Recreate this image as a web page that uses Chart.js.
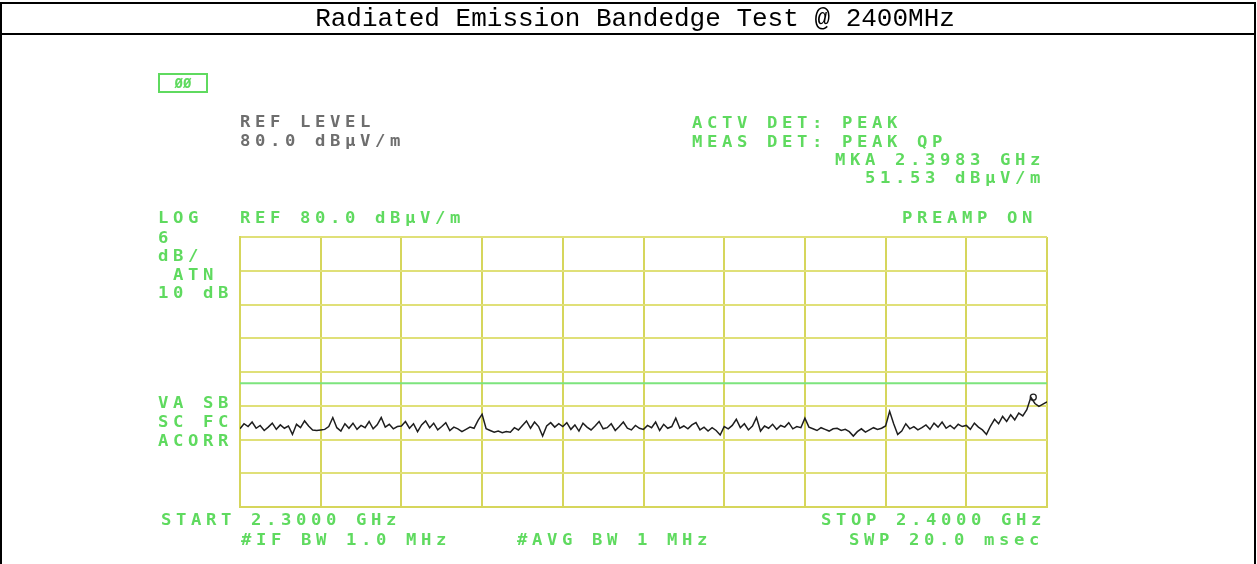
<!DOCTYPE html>
<html>
<head>
<meta charset="utf-8">
<script src="https://cdn.jsdelivr.net/npm/chart.js@4/dist/chart.umd.min.js"></script>
<style>
  html, body { margin: 0; padding: 0; background: #fff; }
  canvas { display: block; }
</style>
</head>
<body>
<canvas id="chart" width="1257" height="564"></canvas>
<script>
// sweep: 2.3000 GHz .. 2.4000 GHz, 201 trace points (MHz)
const startMHz = 2300;
const stopMHz = 2400;
const stepMHz = 0.5;

// trace level, dBuV/m, one division (10 MHz) per row
const traceLevels = [
  45.9, 46.8, 46.3, 47.1, 46.0, 46.5, 45.6, 46.2, 46.9, 45.8, 46.6, 46.0, 46.4, 44.9, 46.7, 46.1, 47.3, 46.4, 45.7, 45.6,
  45.7, 45.8, 46.3, 47.9, 46.1, 45.5, 46.8, 46.0, 46.9, 45.8, 46.5, 46.1, 47.2, 45.9, 46.6, 47.9, 46.2, 46.7, 45.9, 46.3,
  46.4, 47.2, 46.0, 46.8, 45.4, 46.6, 47.3, 46.1, 46.9, 45.7, 46.3, 47.0, 45.6, 46.2, 45.9, 45.4, 45.8, 46.2, 46.0, 47.4,
  48.5, 45.9, 45.6, 45.3, 45.5, 45.2, 45.4, 45.3, 46.1, 45.7, 46.5, 47.3, 46.0, 47.1, 46.3, 44.6, 46.4, 47.0, 46.2, 46.8,
  46.3, 47.0, 45.8, 46.6, 45.5, 46.9, 46.2, 45.7, 46.4, 47.2, 45.9, 46.1, 46.8, 45.6, 46.3, 47.1, 46.0, 45.7, 46.5, 46.0,
  45.8, 46.5, 46.1, 47.1, 45.6, 46.7, 46.0, 46.3, 47.8, 46.0, 46.4, 45.9, 46.6, 47.0, 45.7, 46.2, 45.5, 46.1, 45.6, 44.8,
  46.3, 45.9, 46.5, 47.6, 46.1, 46.8, 45.7, 46.4, 47.9, 45.5, 46.4, 46.0, 46.7, 45.8, 46.5, 46.2, 47.0, 45.9, 46.3, 46.1,
  47.8, 46.2, 45.9, 45.6, 46.1, 45.8, 45.5, 45.9, 46.0, 45.6, 45.8, 45.4, 44.6, 45.4, 45.9, 45.3, 45.7, 46.1, 45.8, 46.0,
  46.4, 49.0, 46.8, 44.9, 45.5, 46.8, 45.9, 46.3, 45.7, 46.1, 46.6, 45.8, 46.9, 46.2, 47.1, 46.0, 46.5, 45.9, 46.7, 46.3,
  46.5, 45.8, 46.9, 46.2, 45.7, 44.9, 46.4, 47.6, 46.8, 48.1, 47.2, 48.4, 47.5, 48.7, 48.2, 49.3, 51.5, 50.4, 49.9, 50.3,
  50.7
];

const limitLevel = 54;           // green display line
const markerFreq = 2398.3;       // MKA 2.3983 GHz
const markerLevel = 51.53;
const refLevel = 80;
const dbPerDiv = 6;
const vDivs = 8;

const green = 'rgb(95,218,95)';
const grey = 'rgb(110,110,110)';

// annotation texts on the analyzer screen: [text, x, y, colour]
const screenTexts = [
  ['REF LEVEL', 240, 122, grey],
  ['80.0 dBµV/m', 240, 141, grey],
  ['ACTV DET: PEAK', 692, 123, green],
  ['MEAS DET: PEAK QP', 692, 142, green],
  ['MKA 2.3983 GHz', 835, 160, green],
  ['51.53 dBµV/m', 865, 178, green],
  ['LOG', 158, 218, green],
  ['REF 80.0 dBµV/m', 240, 218, green],
  ['PREAMP ON', 902, 218, green],
  ['6', 158, 238, green],
  ['dB/', 158, 256, green],
  ['ATN', 173, 275, green],
  ['10 dB', 158, 293, green],
  ['VA SB', 158, 403, green],
  ['SC FC', 158, 422, green],
  ['ACORR', 158, 441, green],
  ['START 2.3000 GHz', 161, 520, green],
  ['#IF BW 1.0 MHz', 241, 540, green],
  ['#AVG BW 1 MHz', 517, 540, green],
  ['STOP 2.4000 GHz', 821, 520, green],
  ['SWP 20.0 msec', 849, 540, green]
];

const titleText = 'Radiated Emission Bandedge Test @ 2400MHz';

const tracePoints = traceLevels.map((v, i) => ({ x: startMHz + i * stepMHz, y: v }));

// draws the page frame, title and the analyzer's screen text
const screenPlugin = {
  id: 'screen',
  afterDraw(chart) {
    const ctx = chart.ctx;
    const W = chart.width, H = chart.height;
    ctx.save();
    ctx.strokeStyle = '#000';
    ctx.lineWidth = 2;
    ctx.beginPath();
    ctx.moveTo(1, H); ctx.lineTo(1, 3); ctx.lineTo(W - 2, 3); ctx.lineTo(W - 2, H);
    ctx.moveTo(1, 34); ctx.lineTo(W - 2, 34);
    ctx.stroke();

    ctx.fillStyle = '#000';
    ctx.font = '26px "Liberation Mono", "Courier New", monospace';
    ctx.textAlign = 'center';
    ctx.textBaseline = 'middle';
    ctx.fillText(titleText, 635, 19);

    // boxed icon top-left
    ctx.strokeStyle = green;
    ctx.lineWidth = 2;
    ctx.strokeRect(159, 74, 48, 18);
    ctx.fillStyle = green;
    ctx.font = 'bold 14px "DejaVu Sans Mono", monospace';
    ctx.textAlign = 'center';
    ctx.fillText('ØØ', 183, 84);

    // fixed-pitch screen font, slightly widened like the analyzer's glyphs
    ctx.font = 'bold 15px "DejaVu Sans Mono", monospace';
    ctx.textAlign = 'left';
    const pitch = 15;
    screenTexts.forEach(([txt, x, y, col]) => {
      ctx.fillStyle = col;
      for (let i = 0; i < txt.length; i++) {
        ctx.save();
        ctx.translate(x + i * pitch, y + 1);
        ctx.scale(1.15, 1);
        ctx.fillText(txt[i], 0, 0);
        ctx.restore();
      }
    });
    ctx.restore();
  }
};

new Chart(document.getElementById('chart'), {
  type: 'line',
  data: {
    datasets: [{
      label: 'Trace',
      data: tracePoints,
      borderColor: 'rgb(30,30,30)',
      borderWidth: 1.5,
      pointRadius: 0,
      tension: 0
    }, {
      label: 'Limit',
      data: [{ x: startMHz, y: limitLevel }, { x: stopMHz, y: limitLevel }],
      borderColor: 'rgb(125,228,125)',
      borderWidth: 2,
      pointRadius: 0
    }, {
      label: 'Marker',
      data: [{ x: markerFreq, y: markerLevel }],
      showLine: false,
      pointStyle: 'circle',
      pointRadius: 3,
      borderColor: 'rgb(30,30,30)',
      borderWidth: 1.3,
      backgroundColor: 'rgba(0,0,0,0)'
    }]
  },
  options: {
    responsive: false,
    animation: false,
    events: [],
    layout: { padding: { left: 240, right: 210, top: 237, bottom: 57 } },
    plugins: {
      legend: { display: false },
      title: { display: false },
      tooltip: { enabled: false }
    },
    scales: {
      x: {
        type: 'linear',
        min: startMHz,
        max: stopMHz,
        ticks: { display: false, stepSize: 10 },
        grid: { color: 'rgb(214,214,92)', lineWidth: 2, drawTicks: false },
        border: { color: 'rgb(214,214,92)', width: 2 },
        afterFit(axis) { axis.height = 0; }
      },
      y: {
        min: refLevel - dbPerDiv * vDivs,
        max: refLevel,
        ticks: { display: false, stepSize: dbPerDiv },
        grid: { color: 'rgb(224,224,120)', lineWidth: 2, drawTicks: false },
        border: { color: 'rgb(214,214,92)', width: 2 },
        afterFit(axis) { axis.width = 0; }
      }
    }
  },
  plugins: [screenPlugin]
});
</script>
</body>
</html>
